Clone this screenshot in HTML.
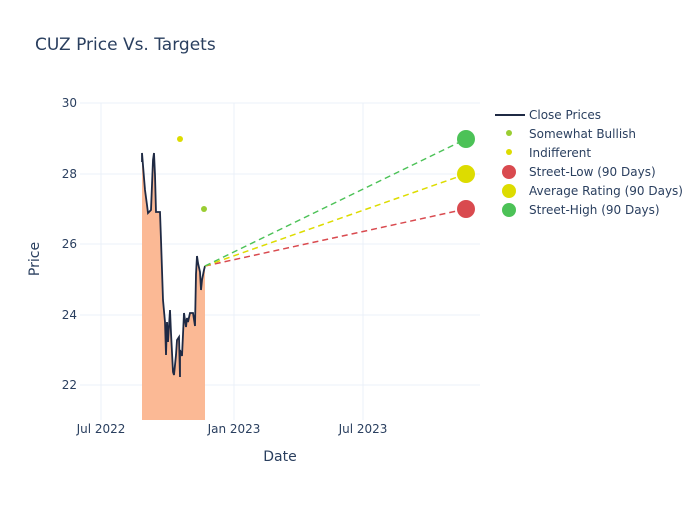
<!DOCTYPE html><html><head><style>body{margin:0;background:#fff}text{font-family:"DejaVu Sans","Liberation Sans",sans-serif}</style></head><body>
<svg width="700" height="500" xmlns="http://www.w3.org/2000/svg">
<rect width="700" height="500" fill="#fff"/>
<g stroke="#ebf0f8" stroke-width="1">
<line x1="80" x2="480" y1="103" y2="103"/><line x1="80" x2="480" y1="174" y2="174"/><line x1="80" x2="480" y1="244" y2="244"/><line x1="80" x2="480" y1="315" y2="315"/><line x1="80" x2="480" y1="385" y2="385"/>
<line x1="101" x2="101" y1="103" y2="420"/><line x1="234" x2="234" y1="103" y2="420"/><line x1="363" x2="363" y1="103" y2="420"/>
</g>
<polygon fill="#fbb995" points="142,420 142,162 142,153 144,178 145,190 147,205 148,213 151,210 153,160 154,153 155,175 156,212 158,212 160,212 161,240 163,300 165,322 166,355 167,322 168,342 170,310 171,333 173,372 174,375 176,355 177,340 179,337 180,377 180,350 182,356 184,313 185,320 186,327 187,318 188,322 190,313 191,313 193,313 195,326 196,274 197,256 198,263 200,272 201,290 202,280 204,270 205,266 205,420"/>
<polyline fill="none" stroke="#1f2a44" stroke-width="1.8" points="142,162 142,153 144,178 145,190 147,205 148,213 151,210 153,160 154,153 155,175 156,212 158,212 160,212 161,240 163,300 165,322 166,355 167,322 168,342 170,310 171,333 173,372 174,375 176,355 177,340 179,337 180,377 180,350 182,356 184,313 185,320 186,327 187,318 188,322 190,313 191,313 193,313 195,326 196,274 197,256 198,263 200,272 201,290 202,280 204,270 205,266"/>
<g stroke-width="1.5" stroke-dasharray="6,4" fill="none">
<line x1="205" y1="266" x2="466" y2="209" stroke="#d94a4f"/>
<line x1="205" y1="266" x2="466" y2="174" stroke="#dddc00"/>
<line x1="205" y1="266" x2="466" y2="139" stroke="#4cc257"/>
</g>
<circle cx="180" cy="139" r="3" fill="#dddc00"/><circle cx="204" cy="209" r="3" fill="#9acd32"/>
<circle cx="466" cy="209" r="9" fill="#d94a4f"/><circle cx="466" cy="174" r="9" fill="#dddc00"/><circle cx="466" cy="139" r="9" fill="#4cc257"/>
<g font-size="12" fill="#2a3f5f" text-anchor="end">
<text x="77" y="107">30</text><text x="77" y="178">28</text><text x="77" y="248">26</text><text x="77" y="319">24</text><text x="77" y="389">22</text></g>
<g font-size="12" fill="#2a3f5f" text-anchor="middle">
<text x="101" y="433">Jul 2022</text><text x="234" y="433">Jan 2023</text><text x="363" y="433">Jul 2023</text>
<text x="280" y="461" font-size="14">Date</text></g>
<text x="39" y="259" font-size="14" fill="#2a3f5f" text-anchor="middle" transform="rotate(-90 39 259)">Price</text>
<text x="35" y="50" font-size="17" fill="#2a3f5f">CUZ Price Vs. Targets</text>
<g font-size="12" fill="#2a3f5f">
<line x1="495" x2="525" y1="115" y2="115" stroke="#1f2a44" stroke-width="2"/><text x="529" y="119">Close Prices</text>
<circle cx="509" cy="133" r="3" fill="#9acd32"/><text x="529" y="138">Somewhat Bullish</text>
<circle cx="509" cy="152" r="3" fill="#dddc00"/><text x="529" y="157">Indifferent</text>
<circle cx="509" cy="172" r="7" fill="#d94a4f"/><text x="529" y="176">Street-Low (90 Days)</text>
<circle cx="509" cy="191" r="7" fill="#dddc00"/><text x="529" y="195">Average Rating (90 Days)</text>
<circle cx="509" cy="210" r="7" fill="#4cc257"/><text x="529" y="214">Street-High (90 Days)</text>
</g>
</svg></body></html>
